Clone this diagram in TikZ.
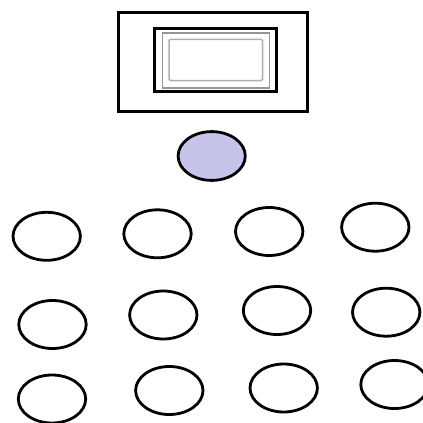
\documentclass[tikz,border=0pt]{standalone}
\usetikzlibrary{shapes.geometric}
\definecolor{lav}{RGB}{199,196,235}
\definecolor{grayA}{RGB}{150,150,150}
\definecolor{grayB}{RGB}{175,175,175}
\begin{document}
\begin{tikzpicture}[x=1pt,y=-1pt,
  seat/.style={ellipse,draw=black,line width=2.8pt,inner sep=0pt,minimum width=67.4pt,minimum height=48pt},
  host/.style={ellipse,draw=black,fill=lav,line width=2.8pt,inner sep=0pt,minimum width=67.2pt,minimum height=48.8pt},
  frame/.style={rectangle,draw=black,line width=2.8pt,inner sep=0pt},
  screenA/.style={rectangle,draw=grayA,line width=1.8pt,inner sep=0pt},
  screenB/.style={rectangle,draw=grayB,line width=1.5pt,inner sep=0pt,rounded corners=1.5pt}]
\useasboundingbox (0,0) rectangle (423,423);
\fill[white] (0,0) rectangle (423,423);
% board
\node[frame,minimum width=189.2pt,minimum height=99.1pt] (board) at (212.9,61.75) {};
\node[frame,minimum width=121.8pt,minimum height=62.6pt] (screen) at (215.4,60) {};
\node[screenA,minimum width=107pt,minimum height=55.3pt] (screenin) at (216,60.65) {};
\node[screenB,minimum width=93.7pt,minimum height=41.2pt] (screeninner) at (215.85,59.9) {};
% teacher
\node[host] (teacher) at (211.7,156) {};
% row 1
\node[seat] (s11) at (46.7,236.3) {};
\node[seat] (s12) at (157.5,233.8) {};
\node[seat] (s13) at (269.2,231.5) {};
\node[seat] (s14) at (375.3,227.2) {};
% row 2
\node[seat] (s21) at (52.5,324.5) {};
\node[seat] (s22) at (163.3,315) {};
\node[seat] (s23) at (277,310.5) {};
\node[seat] (s24) at (386.2,312.2) {};
% row 3
\node[seat] (s31) at (52,399) {};
\node[seat] (s32) at (169.3,390.5) {};
\node[seat] (s33) at (283.7,388) {};
\node[seat] (s34) at (394.5,384.5) {};
\end{tikzpicture}
\end{document}
